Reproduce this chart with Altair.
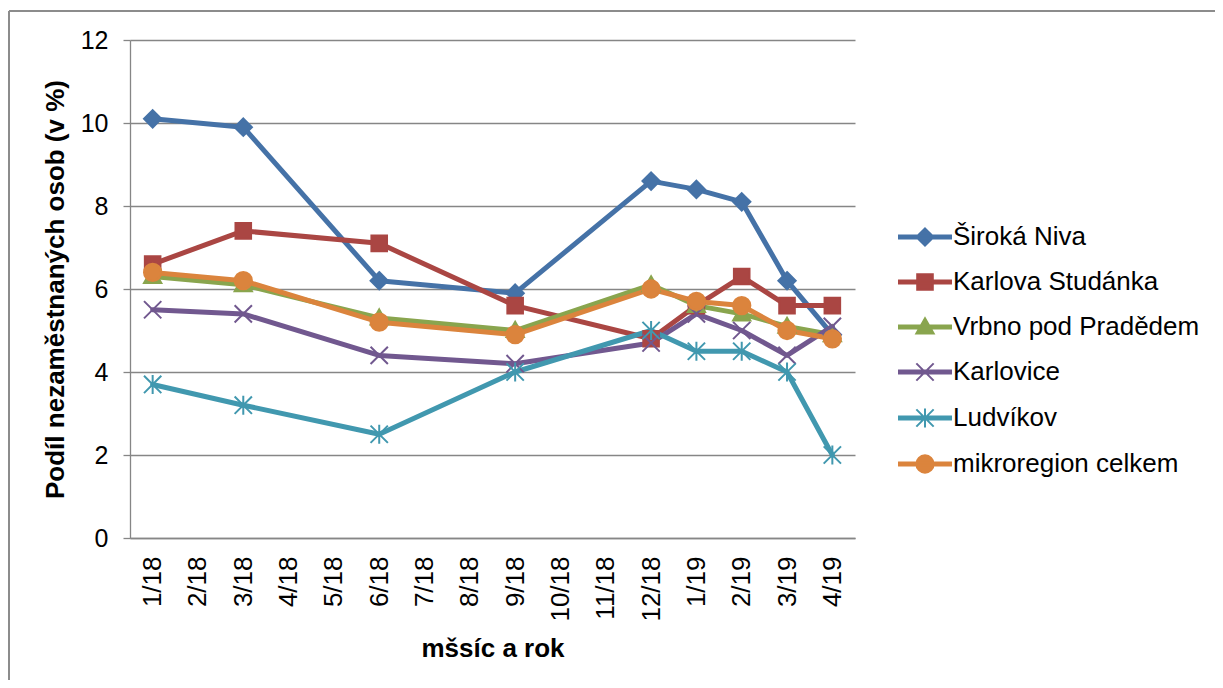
import altair as alt
import pandas as pd

months = ["1/18", "2/18", "3/18", "4/18", "5/18", "6/18", "7/18", "8/18",
          "9/18", "10/18", "11/18", "12/18", "1/19", "2/19", "3/19", "4/19"]
obs_months = ["1/18", "3/18", "6/18", "9/18", "12/18", "1/19", "2/19", "3/19", "4/19"]

series_names = ["Široká Niva", "Karlova Studánka", "Vrbno pod Pradědem",
                "Karlovice", "Ludvíkov", "mikroregion celkem"]
siroka_niva = [10.1, 9.9, 6.2, 5.9, 8.6, 8.4, 8.1, 6.2, 4.9]
karlova_studanka = [6.6, 7.4, 7.1, 5.6, 4.8, 5.6, 6.3, 5.6, 5.6]
vrbno = [6.3, 6.1, 5.3, 5.0, 6.1, 5.6, 5.4, 5.1, 4.9]
karlovice = [5.5, 5.4, 4.4, 4.2, 4.7, 5.4, 5.0, 4.4, 5.1]
ludvikov = [3.7, 3.2, 2.5, 4.0, 5.0, 4.5, 4.5, 4.0, 2.0]
mikroregion = [6.4, 6.2, 5.2, 4.9, 6.0, 5.7, 5.6, 5.0, 4.8]
values = [siroka_niva, karlova_studanka, vrbno, karlovice, ludvikov, mikroregion]

colors = ["#4572A7", "#AA4643", "#89A54E", "#71588F", "#4198AF", "#DB843D"]

# marker shapes (unit box -1..1)
diamond = "M0,-1L1,0L0,1L-1,0Z"
square = "M-0.9,-0.9H0.9V0.9H-0.9Z"
triangle = "M0,-1L1,0.75H-1Z"
xmark = "M-1,-1L1,1M-1,1L1,-1"
aster = "M-1,-1L1,1M-1,1L1,-1M0,-1.1L0,1.1"
circle = "M-1,0A1,1,0,1,1,1,0A1,1,0,1,1,-1,0Z"
markers = [diamond, square, triangle, xmark, aster, circle]
bar = "M-3.0,-0.16H3.0V0.16H-3.0Z"
legend_markers = [bar + m for m in markers]

rows = []
for s, vals in zip(series_names, values):
    for m, v in zip(obs_months, vals):
        rows.append({"month": m, "idx": months.index(m), "series": s, "value": v})
df = pd.DataFrame(rows)

FONT = "Liberation Sans"
GRAY = "#868686"

x_enc = alt.X("month:N", sort=months,
              scale=alt.Scale(type="point", domain=months, padding=0.5),
              axis=alt.Axis(title="mšsíc a rok", labelAngle=-90, labelAlign="right",
                            labelBaseline="middle", labelFontSize=26, labelPadding=18,
                            ticks=False, grid=False, domainColor=GRAY,
                            domainWidth=1.3, titleFontSize=26, titleFontWeight="bold",
                            titlePadding=14, labelColor="black", titleColor="black",
                            labelFont=FONT, titleFont=FONT))
y_enc = alt.Y("value:Q",
              scale=alt.Scale(domain=[0, 12], nice=False, zero=True),
              axis=alt.Axis(title="Podíl nezaměstnaných osob (v %)", values=[0, 2, 4, 6, 8, 10, 12],
                            labelFontSize=25, tickSize=7, labelPadding=15,
                            tickColor=GRAY, tickWidth=1.3, domainColor=GRAY,
                            domainWidth=1.3, gridColor=GRAY, gridWidth=1.3,
                            titleFontSize=26, titleFontWeight="bold", titlePadding=12,
                            labelColor="black", titleColor="black",
                            labelFont=FONT, titleFont=FONT))

base = alt.Chart(df)

lines = base.mark_line(strokeWidth=5, strokeJoin="round", strokeCap="round").encode(
    x=x_enc, y=y_enc,
    color=alt.Color("series:N", scale=alt.Scale(domain=series_names, range=colors), legend=None),
    order="idx:Q",
    detail="series:N",
)

points = base.mark_point(filled=True, size=300, strokeWidth=2, opacity=1).encode(
    x=x_enc, y=y_enc,
    shape=alt.Shape("series:N", scale=alt.Scale(domain=series_names, range=markers), legend=None),
    fill=alt.Fill("series:N", scale=alt.Scale(domain=series_names, range=colors), legend=None),
    stroke=alt.Stroke("series:N", scale=alt.Scale(domain=series_names, range=colors), legend=None),
)

leg = alt.Legend(title=None, orient="none", legendX=782, legendY=184,
                 labelFontSize=26, labelFont=FONT, labelColor="black", labelLimit=0,
                 rowPadding=19, labelOffset=15, symbolSize=300,
                 symbolStrokeWidth=2, symbolOpacity=1, padding=0)

legend_layer = base.mark_point(filled=True, size=300, strokeWidth=2, opacity=1).encode(
    x=x_enc, y=y_enc,
    shape=alt.Shape("series:N", scale=alt.Scale(domain=series_names, range=legend_markers), legend=leg),
    fill=alt.Fill("series:N", scale=alt.Scale(domain=series_names, range=colors), legend=leg),
    stroke=alt.Stroke("series:N", scale=alt.Scale(domain=series_names, range=colors), legend=leg),
).transform_filter("false")

# chart-area border (top and left edges)
frame_df = pd.DataFrame({"k": [0]})
border_left = alt.Chart(frame_df).mark_rule(color="#8c8c8c", strokeWidth=2).encode(
    x=alt.value(-121), y=alt.value(-29), y2=alt.value(640))
border_top = alt.Chart(frame_df).mark_rule(color="#8c8c8c", strokeWidth=2).encode(
    x=alt.value(-121), x2=alt.value(1085), y=alt.value(-29))

chart = alt.layer(border_left, border_top, lines, points, legend_layer).resolve_scale(
    shape="independent", fill="independent", stroke="independent"
).properties(
    width=725, height=498,
    autosize=alt.AutoSizeParams(type="none"),
    padding={"left": 122, "top": 32, "right": 360, "bottom": 142},
    background="white",
).configure_view(stroke=None)

chart.save("out.html", embed_options={"renderer": "svg", "actions": False})
